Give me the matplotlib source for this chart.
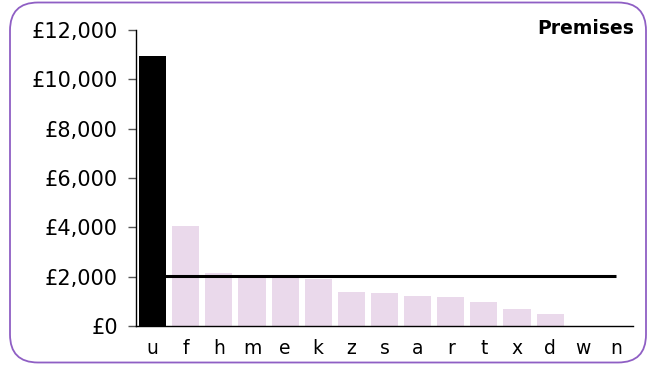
import matplotlib
matplotlib.use("Agg")
import matplotlib.pyplot as plt
from matplotlib.patches import FancyBboxPatch
from matplotlib.transforms import IdentityTransform

categories = ["u", "f", "h", "m", "e", "k", "z", "s", "a", "r", "t", "x", "d", "w", "n"]
values = [10950, 4060, 2150, 2020, 1960, 1900, 1380, 1350, 1230, 1170, 970, 690, 490, 0, 0]
highlight = "u"
average = 2040
yticks = [0, 2000, 4000, 6000, 8000, 10000, 12000]
title = "Premises"

fig = plt.figure(figsize=(6.5, 3.65), dpi=100)
ax = fig.add_axes([136/650, 1-326/365, (633-136)/650, (326-30)/365])

x = list(range(len(categories)))
colors = ["black" if c == highlight else "#EAD9EB" for c in categories]
for xi, v, c, cat in zip(x, values, colors, categories):
    ax.bar(xi, v, width=0.82, color=c, zorder=4 if cat == highlight else 2)
ax.plot([0, len(categories)-1], [average, average], color="black", lw=2.2, zorder=3,
        solid_capstyle="butt")

ax.set_xlim(-0.5, len(categories)-0.5)
ax.set_ylim(0, 12000)
ax.set_yticks(yticks)
ax.set_yticklabels(["£{:,}".format(v) for v in yticks])
ax.set_xticks(x)
ax.set_xticklabels(categories)
ax.tick_params(axis="y", length=6, width=1, color="#555555", pad=7, labelsize=15)
ax.tick_params(axis="x", length=0, pad=9, labelsize=13.5)
for s in ["top", "right"]:
    ax.spines[s].set_visible(False)
for s in ["left", "bottom"]:
    ax.spines[s].set_linewidth(1)
    ax.spines[s].set_color("black")
    ax.spines[s].set_zorder(5)

fig.text(634/650, 1-29/365, title, ha="right", va="center", fontsize=13.5, fontweight="bold")

border = FancyBboxPatch((10, 2.5), 636, 360, boxstyle="round,pad=0,rounding_size=28",
                        transform=IdentityTransform(), fill=False, edgecolor="#8F5FC4",
                        linewidth=1.3)
fig.patches.append(border)

fig.savefig("out.png", dpi=100)
